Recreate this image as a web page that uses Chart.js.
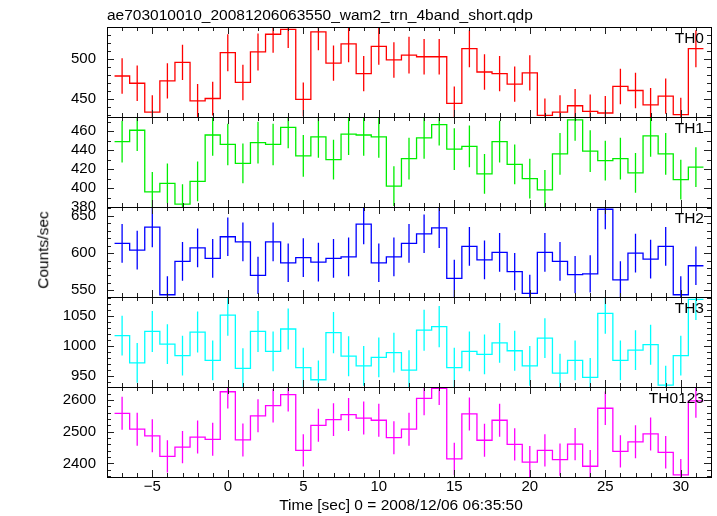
<!DOCTYPE html>
<html>
<head>
<meta charset="utf-8">
<script src="https://cdn.jsdelivr.net/npm/chart.js@4.4.0/dist/chart.umd.min.js"></script>
<style>
  html, body { margin: 0; padding: 0; background: #fff; }
  #wrap { position: relative; width: 717px; height: 516px; overflow: hidden; font-family: "Liberation Sans", Arial, sans-serif; color: #000; }
  .panel { position: absolute; left: 0; }
  .lbl { position: absolute; font-size: 15.5px; line-height: 1; white-space: nowrap; z-index: 5; }
</style>
</head>
<body>
<div id="wrap">
  <div class="lbl" style="left:107px; top:7px;">ae703010010_20081206063550_wam2_trn_4band_short.qdp</div>
  <div class="lbl" style="left:43px; top:250px; transform: translate(-50%, -50%) rotate(-90deg);">Counts/sec</div>
  <div class="lbl" style="left:401px; top:497px; transform: translateX(-50%);">Time [sec] 0 = 2008/12/06 06:35:50</div>
</div>
<script>
// Bin centres (sec)
const timeBins = [-7, -6, -5, -4, -3, -2, -1, 0, 1, 2, 3, 4, 5, 6, 7, 8, 9, 10, 11, 12,
  13, 14, 15, 16, 17, 18, 19, 20, 21, 22, 23, 24, 25, 26, 27, 28, 29, 30, 31];
const timeTicks = [-5, 0, 5, 10, 15, 20, 25, 30];

// Count rates per band
const th0Rate = [479, 470, 434, 473, 496, 448, 451, 508, 471, 509, 531, 537, 450, 534, 495, 519, 482, 516, 499,
  505, 503, 503, 445, 513, 484, 482, 469, 483, 430, 434, 442, 435, 433, 466, 461, 443, 454, 431, 513];
const th0Err = [22, 22, 21, 22, 22, 21, 21, 23, 22, 23, 23, 23, 21, 23, 22, 23, 22, 23, 22,
  23, 22, 22, 21, 23, 22, 22, 22, 22, 21, 21, 21, 21, 21, 22, 22, 21, 22, 21, 23];

const th1Rate = [449, 461, 396, 405, 383, 407, 456, 446, 426, 448, 446, 464, 434, 454, 430, 457, 456, 454, 402,
  431, 453, 467, 441, 444, 415, 449, 425, 410, 398, 436, 472, 439, 429, 431, 416, 455, 436, 409, 422];
const th1Err = [22, 22, 21, 21, 21, 21, 22, 22, 21, 22, 22, 22, 22, 22, 21, 22, 22, 22, 21,
  22, 22, 22, 22, 22, 21, 22, 21, 21, 21, 22, 22, 22, 21, 22, 21, 22, 22, 21, 21];

const th2Rate = [613, 604, 635, 544, 589, 607, 593, 622, 615, 570, 615, 587, 594, 588, 593, 595, 639, 587, 595,
  613, 626, 634, 566, 609, 591, 601, 575, 546, 601, 589, 571, 572, 659, 564, 600, 592, 609, 544, 583];
const th2Err = [26, 26, 27, 25, 26, 26, 26, 26, 26, 25, 26, 26, 26, 26, 26, 26, 27, 26, 26,
  26, 26, 27, 25, 26, 26, 26, 25, 25, 26, 26, 25, 25, 27, 25, 26, 26, 26, 25, 26];

const th3Rate = [1017, 972, 1024, 1003, 984, 1023, 976, 1051, 963, 1024, 991, 1028, 964, 944, 1022, 983, 967, 981, 989,
  960, 1026, 1032, 964, 991, 986, 1005, 992, 967, 1013, 955, 976, 948, 1054, 976, 993, 1002, 935, 984, 1077];
const th3Err = [33, 33, 34, 33, 33, 34, 33, 34, 33, 34, 33, 34, 33, 32, 34, 33, 33, 33, 33,
  33, 34, 34, 33, 33, 33, 33, 33, 33, 33, 32, 33, 32, 34, 33, 33, 33, 32, 33, 34];

const th0123Rate = [2558, 2508, 2487, 2422, 2451, 2483, 2476, 2626, 2474, 2550, 2582, 2617, 2441, 2520, 2538, 2554, 2543, 2536, 2481,
  2508, 2605, 2637, 2414, 2556, 2473, 2536, 2460, 2404, 2441, 2412, 2461, 2391, 2574, 2438, 2468, 2493, 2435, 2364, 2597];
const th0123Err = [52, 52, 52, 51, 51, 52, 52, 53, 52, 52, 53, 53, 51, 52, 52, 52, 52, 52, 52,
  52, 53, 53, 51, 52, 52, 52, 51, 51, 51, 51, 51, 51, 53, 51, 52, 52, 51, 50, 53];

// Labelled y ticks per panel
const th0Ticks = [450, 500];
const th1Ticks = [380, 400, 420, 440, 460];
const th2Ticks = [550, 600, 650];
const th3Ticks = [950, 1000, 1050];
const th0123Ticks = [2400, 2500, 2600];

const panels = [
  { name: 'TH0', color: '#ff0000', rate: th0Rate, err: th0Err, ticks: th0Ticks, min: 428, max: 540, minor: 10 },
  { name: 'TH1', color: '#00ee00', rate: th1Rate, err: th1Err, ticks: th1Ticks, min: 380, max: 475, minor: 10 },
  { name: 'TH2', color: '#0000ff', rate: th2Rate, err: th2Err, ticks: th2Ticks, min: 541, max: 662, minor: 10 },
  { name: 'TH3', color: '#00ffff', rate: th3Rate, err: th3Err, ticks: th3Ticks, min: 932, max: 1081, minor: 10 },
  { name: 'TH0123', color: '#ff00ff', rate: th0123Rate, err: th0123Err, ticks: th0123Ticks, min: 2357, max: 2641, minor: 20 }
];

const FONT = { family: '"Liberation Sans", Arial, sans-serif', size: 15 };
const PANEL_TOP = 27, PANEL_H = 90, PAD = 26, XAXIS_H = 39;

// QDP style frame: box plus inward ticks on all four sides
const qdpFrame = {
  id: 'qdpFrame',
  afterDraw(chart, args, opts) {
    const { ctx, chartArea: a } = chart;
    const xs = chart.scales.x, ys = chart.scales.y;
    ctx.save();
    ctx.strokeStyle = '#222';
    ctx.lineWidth = 1;
    ctx.beginPath();
    for (let t = Math.ceil(xs.min); t <= xs.max; t++) {
      const px = Math.round(xs.getPixelForValue(t)) + 0.5;
      const len = t % 5 === 0 ? 7 : 4;
      ctx.moveTo(px, a.top); ctx.lineTo(px, a.top + len);
      ctx.moveTo(px, a.bottom); ctx.lineTo(px, a.bottom - len);
    }
    for (let v = Math.ceil(ys.min / opts.minor) * opts.minor; v <= ys.max; v += opts.minor) {
      const py = Math.round(ys.getPixelForValue(v)) + 0.5;
      const len = opts.major.includes(v) ? 7 : 4;
      ctx.moveTo(a.left, py); ctx.lineTo(a.left + len, py);
      ctx.moveTo(a.right, py); ctx.lineTo(a.right - len, py);
    }
    ctx.stroke();
    ctx.strokeStyle = '#000';
    ctx.strokeRect(Math.round(a.left) + 0.5, Math.round(a.top) + 0.5,
      Math.round(a.right - a.left), Math.round(a.bottom - a.top));
    ctx.restore();
  }
};

const wrap = document.getElementById('wrap');

panels.forEach((p, i) => {
  const isLast = i === panels.length - 1;
  const top = PANEL_TOP + PANEL_H * i - PAD;
  const h = PAD + PANEL_H + (isLast ? XAXIS_H : PAD);

  const box = document.createElement('div');
  box.className = 'panel';
  box.style.top = top + 'px';
  box.style.width = '717px';
  box.style.height = h + 'px';
  const canvas = document.createElement('canvas');
  canvas.width = 717;
  canvas.height = h;
  box.appendChild(canvas);
  wrap.appendChild(box);

  const tag = document.createElement('div');
  tag.className = 'lbl';
  tag.style.right = '13px';
  tag.style.top = (PANEL_TOP + PANEL_H * i + 3) + 'px';
  tag.textContent = p.name;
  wrap.appendChild(tag);

  // histogram steps: each bin drawn from centre-0.5 to centre+0.5
  const steps = timeBins.flatMap((t, k) => [{ x: t - 0.5, y: p.rate[k] }, { x: t + 0.5, y: p.rate[k] }]);
  // error bars: vertical segments separated by gaps
  const bars = timeBins.flatMap((t, k) => [
    { x: t, y: p.rate[k] - p.err[k] }, { x: t, y: p.rate[k] + p.err[k] }, { x: t, y: null }
  ]);

  new Chart(canvas, {
    type: 'line',
    data: {
      datasets: [{
        data: steps,
        borderColor: p.color,
        borderWidth: 1.3,
        pointRadius: 0,
        tension: 0
      }, {
        data: bars,
        borderColor: p.color,
        borderWidth: 1.3,
        pointRadius: 0,
        spanGaps: false
      }]
    },
    options: {
      responsive: false,
      animation: false,
      events: [],
      layout: { padding: { top: PAD, bottom: isLast ? 0 : PAD, left: 0, right: 6 } },
      scales: {
        x: {
          type: 'linear',
          min: -8,
          max: 32,
          display: isLast,
          afterFit: s => { if (isLast) s.height = XAXIS_H; },
          afterBuildTicks: s => { s.ticks = timeTicks.map(v => ({ value: v })); },
          grid: { display: false, drawTicks: false, tickLength: 0 },
          border: { display: false },
          ticks: {
            color: '#000',
            font: FONT,
            padding: 1,
            maxRotation: 0,
            autoSkip: false,
            callback: v => String(v).replace('-', '\u2212')
          }
        },
        y: {
          min: p.min,
          max: p.max,
          afterFit: s => { s.width = 107; },
          afterBuildTicks: s => { s.ticks = p.ticks.map(v => ({ value: v })); },
          grid: { display: false, drawTicks: false, tickLength: 0 },
          border: { display: false },
          ticks: { color: '#000', font: FONT, padding: 11, callback: v => String(v) }
        }
      },
      plugins: {
        legend: { display: false },
        tooltip: { enabled: false },
        qdpFrame: { minor: p.minor, major: p.ticks }
      }
    },
    plugins: [qdpFrame]
  });
});
</script>
</body>
</html>
